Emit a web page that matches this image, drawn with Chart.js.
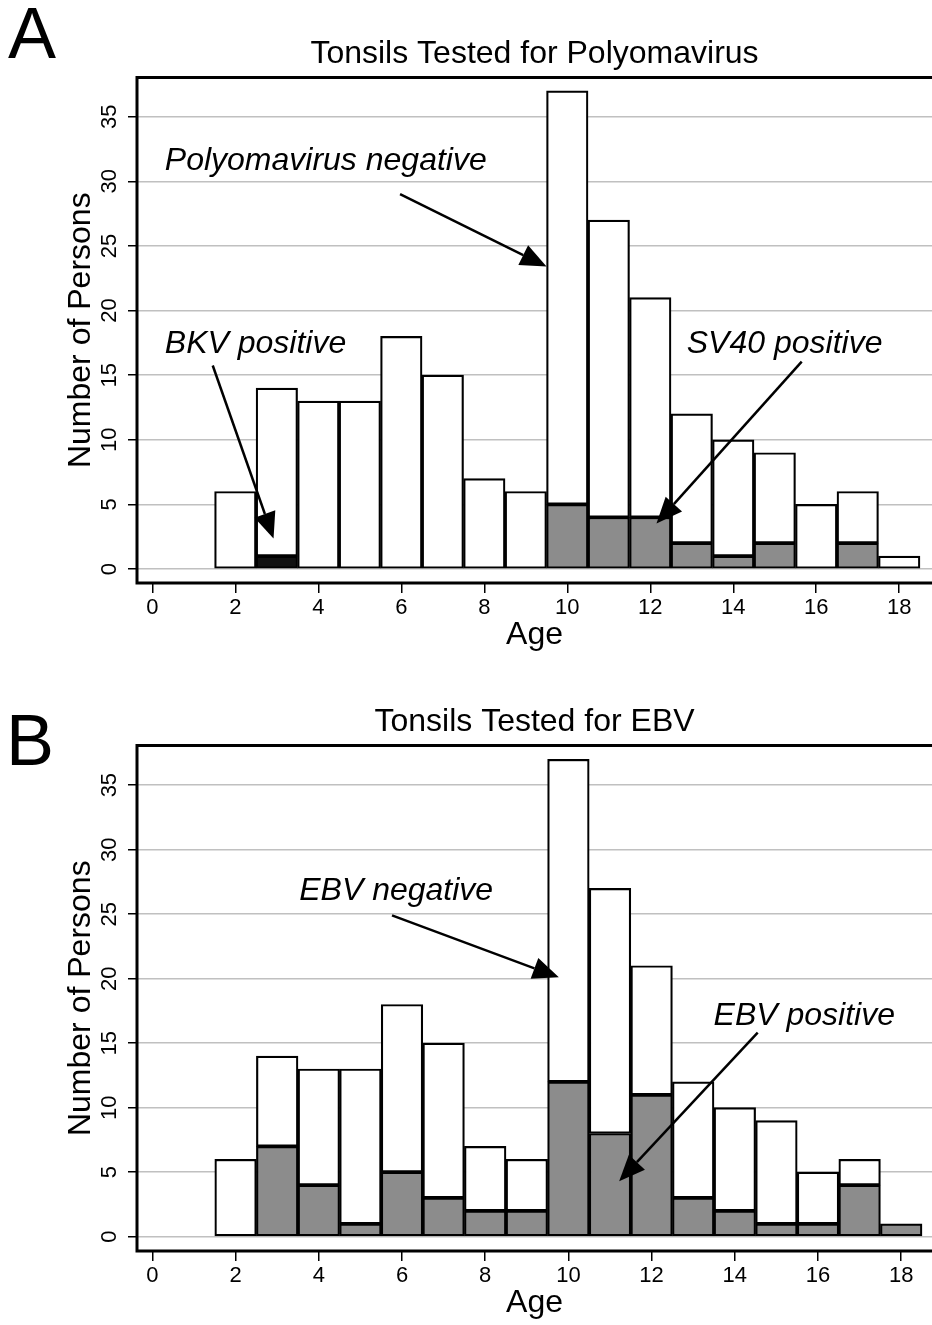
<!DOCTYPE html>
<html>
<head>
<meta charset="utf-8">
<title>Tonsils Tested</title>
<script src="https://cdn.jsdelivr.net/npm/chart.js@4.4.1/dist/chart.umd.min.js"></script>
<style>
  html, body { margin:0; padding:0; background:#fff; overflow:hidden; }
  #page { position:relative; width:932px; height:1325px; }
  canvas { position:absolute; left:0; }
  #chart-a { top:0; }
  #chart-b { top:668px; }
</style>
</head>
<body>
<div id="page">
  <canvas id="chart-a" width="932" height="657"></canvas>
  <canvas id="chart-b" width="932" height="657"></canvas>
</div>
<script>
// Age bins and counts
const ages          = [2, 3, 4, 5, 6, 7, 8, 9, 10, 11, 12, 13, 14, 15, 16, 17, 18];
const polyNegative  = [6, 13, 13, 13, 18, 15, 7, 6, 32, 23, 17, 10, 9, 7, 5, 4, 1];
const sv40Positive  = [0, 0, 0, 0, 0, 0, 0, 0, 5, 4, 4, 2, 1, 2, 0, 2, 0];
const bkvPositive   = [0, 1, 0, 0, 0, 0, 0, 0, 0, 0, 0, 0, 0, 0, 0, 0, 0];
const ebvNegative   = [6, 7, 9, 12, 13, 12, 5, 4, 25, 19, 10, 9, 8, 8, 4, 2, 0];
const ebvPositive   = [0, 7, 4, 1, 5, 3, 2, 2, 12, 8, 11, 3, 2, 1, 1, 4, 1];
const xTicks = [0, 2, 4, 6, 8, 10, 12, 14, 16, 18];
const yTicks = [0, 5, 10, 15, 20, 25, 30, 35];

const FONT = '"Liberation Sans", Arial, Helvetica, sans-serif';
const GREY = '#8c8c8c';

function points(vals) {
  return ages.map((a, i) => ({ x: a, y: vals[i] })).filter(p => p.y > 0);
}

function barSet(label, vals, color) {
  return {
    label, data: points(vals), backgroundColor: color,
    borderColor: '#000', borderWidth: 2.2, borderSkipped: false,
    barPercentage: 1, categoryPercentage: 1
  };
}

function drawArrow(ctx, x1, y1, x2, y2) {
  const ang = Math.atan2(y2 - y1, x2 - x1);
  const len = 26, half = 11;
  const bx = x2 - len * Math.cos(ang), by = y2 - len * Math.sin(ang);
  ctx.beginPath(); ctx.moveTo(x1, y1); ctx.lineTo(bx, by); ctx.stroke();
  ctx.beginPath(); ctx.moveTo(x2, y2);
  ctx.lineTo(bx + half * Math.sin(ang), by - half * Math.cos(ang));
  ctx.lineTo(bx - half * Math.sin(ang), by + half * Math.cos(ang));
  ctx.closePath(); ctx.fill();
}

// frame, panel letter, labels with arrows (positions in data units)
const figurePlugin = {
  id: 'figure',
  afterDraw(chart, args, opts) {
    const { ctx, chartArea: a, scales: { x, y } } = chart;
    ctx.save();
    ctx.strokeStyle = '#000'; ctx.fillStyle = '#000';
    ctx.lineWidth = 3;
    ctx.beginPath();
    ctx.moveTo(chart.width + 2, a.top); ctx.lineTo(a.left, a.top);
    ctx.lineTo(a.left, a.bottom); ctx.lineTo(chart.width + 2, a.bottom);
    ctx.stroke();

    ctx.font = `72px ${FONT}`;
    ctx.textBaseline = 'alphabetic'; ctx.textAlign = 'left';
    ctx.fillText(opts.letter, opts.letterX, opts.letterY);

    ctx.font = `italic 32px ${FONT}`;
    ctx.textBaseline = 'middle';
    (opts.notes || []).forEach(n => {
      ctx.fillText(n.text, x.getPixelForValue(n.x), y.getPixelForValue(n.y));
    });
    ctx.lineWidth = 2.5;
    (opts.arrows || []).forEach(r => {
      drawArrow(ctx, x.getPixelForValue(r.x1), y.getPixelForValue(r.y1),
                     x.getPixelForValue(r.x2), y.getPixelForValue(r.y2));
    });
    ctx.restore();
  }
};

function makeChart(id, title, datasets, yMin, yMax, xMin, xMax, figure) {
  return new Chart(document.getElementById(id), {
    type: 'bar',
    data: { datasets },
    options: {
      responsive: false, animation: false,
      layout: { padding: 0 },
      plugins: {
        legend: { display: false },
        tooltip: { enabled: false },
        title: {
          display: true, text: title, fullSize: false, color: '#000',
          font: { family: FONT, size: 32, weight: 'normal' },
          padding: { top: 35, bottom: 4 }
        },
        figure
      },
      scales: {
        x: {
          type: 'linear', min: xMin, max: xMax, stacked: true, offset: false,
          afterBuildTicks: s => { s.ticks = xTicks.map(v => ({ value: v })); },
          afterFit: s => { s.height = 74; },
          grid: { offset: false, drawOnChartArea: false, drawTicks: true, tickLength: 10, color: '#000', lineWidth: 1.5 },
          border: { display: false },
          ticks: { font: { family: FONT, size: 22 }, color: '#000', padding: 2, maxRotation: 0 },
          title: { display: true, text: 'Age', color: '#000', font: { family: FONT, size: 32 }, padding: { top: 0, bottom: 3 } }
        },
        y: {
          min: yMin, max: yMax, stacked: true,
          afterBuildTicks: s => { s.ticks = yTicks.map(v => ({ value: v })); },
          afterFit: s => { s.width = 137; },
          grid: { color: '#c0c0c0', lineWidth: 1.5, tickColor: '#000', tickLength: 9 },
          border: { display: false },
          ticks: { font: { family: FONT, size: 22 }, color: '#000', minRotation: 90, maxRotation: 90, crossAlign: 'center', padding: 6 },
          title: { display: true, text: 'Number of Persons', color: '#000', font: { family: FONT, size: 32 }, padding: { top: 62, bottom: 0 } }
        }
      }
    },
    plugins: [figurePlugin]
  });
}

makeChart('chart-a', 'Tonsils Tested for Polyomavirus', [
  barSet('BKV positive', bkvPositive, '#111'),
  barSet('SV40 positive', sv40Positive, GREY),
  barSet('Polyomavirus negative', polyNegative, '#fff')
], -1.08, 38.04, -0.37, 18.79, {
  letter: 'A', letterX: 8, letterY: 58,
  notes: [
    { text: 'Polyomavirus negative', x: 0.30, y: 31.6 },
    { text: 'BKV positive', x: 0.30, y: 17.37 },
    { text: 'SV40 positive', x: 12.88, y: 17.37 }
  ],
  arrows: [
    { x1: 5.97, y1: 29.0, x2: 9.50, y2: 23.4 },
    { x1: 1.455, y1: 15.75, x2: 2.92, y2: 2.36 },
    { x1: 15.65, y1: 16.05, x2: 12.15, y2: 3.53 }
  ]
});

makeChart('chart-b', 'Tonsils Tested for EBV', [
  barSet('EBV positive', ebvPositive, GREY),
  barSet('EBV negative', ebvNegative, '#fff')
], -1.11, 38.08, -0.37, 18.74, {
  letter: 'B', letterX: 6, letterY: 97,
  notes: [
    { text: 'EBV negative', x: 3.53, y: 26.8 },
    { text: 'EBV positive', x: 13.49, y: 17.12 }
  ],
  arrows: [
    { x1: 5.76, y1: 24.9, x2: 9.77, y2: 20.1 },
    { x1: 14.55, y1: 15.81, x2: 11.22, y2: 4.3 }
  ]
});
</script>
</body>
</html>
